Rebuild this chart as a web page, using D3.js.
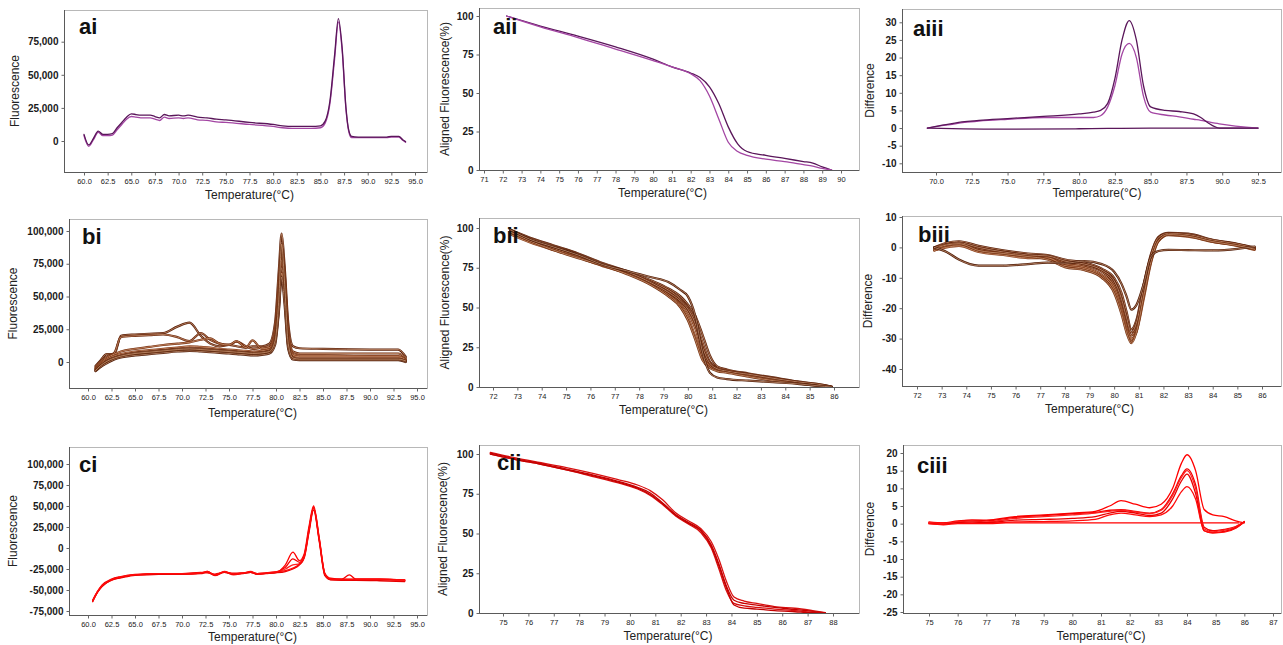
<!DOCTYPE html>
<meta charset="utf-8">
<style>
body { margin: 0; background: #fff; }
svg { font-family: Arial, "Liberation Sans", sans-serif; }
.frame { fill: none; stroke: #b8b8b8; stroke-width: 1; }
.axisline { stroke: #5a5a5a; stroke-width: 1; }
.curve { fill: none; stroke-linejoin: round; stroke-linecap: round; }
.axis-title { font-size: 12px; fill: #222; }
.panel-label { font-size: 22px; font-weight: bold; fill: #111; }
</style>
<body>
<script src="https://d3js.org/d3.v7.min.js"></script>
<script>

// ---- tick values ----
var tempTicksWide = [60, 62.5, 65, 67.5, 70, 72.5, 75, 77.5, 80, 82.5, 85, 87.5, 90, 92.5, 95];
var tempTicksAiii = [70, 72.5, 75, 77.5, 80, 82.5, 85, 87.5, 90, 92.5];
var tempTicksAii  = [71, 72, 73, 74, 75, 76, 77, 78, 79, 80, 81, 82, 83, 84, 85, 86, 87, 88, 89, 90];
var tempTicksB    = [72, 73, 74, 75, 76, 77, 78, 79, 80, 81, 82, 83, 84, 85, 86];
var tempTicksCii  = [75, 76, 77, 78, 79, 80, 81, 82, 83, 84, 85, 86, 87, 88];
var tempTicksCiii = [75, 76, 77, 78, 79, 80, 81, 82, 83, 84, 85, 86, 87];
var fluorTicksA   = [0, 25000, 50000, 75000];
var fluorTicksB   = [0, 25000, 50000, 75000, 100000];
var fluorTicksC   = [-75000, -50000, -25000, 0, 25000, 50000, 75000, 100000];
var alignedTicks  = [0, 25, 50, 75, 100];
var diffTicksA    = [-10, -5, 0, 5, 10, 15, 20, 25, 30];
var diffTicksB    = [-40, -30, -20, -10, 0, 10];
var diffTicksC    = [-25, -20, -15, -10, -5, 0, 5, 10, 15, 20];

// ---- ai : melt curve, raw fluorescence ----
var aiTemp  = [60.0, 60.5, 61.0, 61.5, 62.0, 62.5, 63.0, 63.5, 64.0, 64.5, 65.0, 65.5, 66.0, 67.0, 67.5, 68.0, 68.5, 69.0, 70.0, 70.5, 71.0, 72.0, 73.0, 74.0, 75.0, 77.5, 80.0, 81.0, 82.0, 83.0, 84.0, 85.0, 85.5, 86.0, 86.5, 86.9, 87.3, 87.7, 88.0, 88.3, 89.0, 92.0, 92.5, 93.3, 93.7, 94.0];
var aiFluorA = [5000, -3000, 2000, 7500, 5000, 5000, 5500, 10000, 14000, 18000, 20500, 20000, 19500, 19500, 18500, 17500, 20000, 19000, 19500, 19000, 19500, 18000, 17500, 16500, 16000, 14000, 12500, 11500, 11000, 11000, 11000, 11500, 15000, 30000, 65000, 92500, 70000, 25000, 8000, 3500, 3000, 3000, 3500, 3500, 1000, -500];
var aiFluorB = [4000, -4000, 1000, 6500, 4000, 4000, 4500, 8500, 12500, 16500, 18500, 18000, 17500, 17500, 16500, 15500, 18000, 17000, 17500, 17000, 17500, 16000, 15500, 14500, 14000, 12500, 11000, 10000, 9500, 9500, 9500, 10000, 13500, 28000, 62000, 90000, 68000, 24000, 7000, 2500, 2500, 2500, 3000, 3000, 500, -1000];

// ---- aii : aligned fluorescence ----
var aiiTemp     = [72.2, 74, 76, 78, 80, 81, 82, 82.5, 83, 83.5, 84, 84.5, 85, 86, 87, 88, 88.5, 89, 89.5];
var aiiAlignedA = [100, 93.5, 87, 80, 72, 67, 63, 60, 54, 43, 28, 17, 12, 9.5, 7.5, 5.5, 4.5, 2, 0];
var aiiAlignedB = [100, 93, 86, 78.5, 71, 67, 62.5, 58, 48, 33, 18, 12, 9.5, 7, 5.5, 3.5, 2.5, 1, 0];

// ---- aiii : difference plot ----
var aiiiTemp  = [69.4, 70, 71, 72, 73, 75, 77.5, 80, 81, 81.5, 82, 82.5, 83, 83.5, 84, 84.5, 85, 86, 87, 88, 88.5, 89, 89.8, 92.5];
var aiiiDiffA = [0, 0.5, 1.2, 1.8, 2.2, 2.7, 3.3, 4, 4.5, 5, 7, 14, 25, 30.5, 25, 12, 6, 5, 4.7, 4, 3, 1.5, 0, 0];
var aiiiDiffB = [0, 0.4, 1, 1.6, 2, 2.5, 3, 3, 3, 3.5, 6, 12, 21, 24, 20, 9, 4.5, 3.7, 3.2, 2.5, 2.2, 1.8, 1.2, 0];
var aiiiBaseTemp = [69.4, 75, 80, 85, 92.5];
var aiiiBaseDiff = [0, -0.3, -0.2, 0, 0];

// ---- bi ----
var biTemp = [60.8, 61.3, 62.0, 62.8, 63.5, 65.0, 66.5, 68.0, 69.5, 70.8, 72.0, 73.0, 74.0, 75.0, 75.8, 76.8, 77.5, 78.5, 79.3, 79.9, 80.3, 80.6, 80.9, 81.3, 81.8, 82.5, 85.0, 90.0, 93.0, 93.8];
var biFluor = [
  [-3000, 1000, 6000, 6000, 20000, 21000, 21500, 22000, 27000, 30000, 20000, 14000, 12000, 13000, 12000, 11000, 12000, 12000, 14000, 30000, 70000, 98000, 75000, 30000, 12000, 10500, 10000, 9500, 9500, 4000],
  [-4000, 0, 4000, 7000, 19000, 20000, 20500, 21000, 19000, 16000, 22000, 17000, 14000, 13000, 15500, 12000, 10000, 11000, 12000, 25000, 60000, 88000, 70000, 25000, 8000, 6500, 6500, 6500, 6500, 3000],
  [-5000, -1000, 3000, 6000, 8000, 10000, 11500, 13000, 14000, 15000, 17000, 18000, 14000, 13000, 16000, 11000, 16500, 10000, 11000, 22000, 55000, 82000, 65000, 22000, 6000, 5000, 5000, 4500, 4500, 2000],
  [-5000, -2000, 2000, 4500, 6000, 8000, 9000, 10000, 11000, 12000, 11500, 11000, 10000, 9500, 9000, 8500, 8000, 8500, 9500, 20000, 50000, 78000, 60000, 18000, 5000, 4000, 4000, 4000, 4000, 1500],
  [-6000, -3000, 1000, 3500, 5000, 7000, 8000, 9000, 10000, 10500, 10000, 9500, 9000, 8500, 8000, 7500, 7000, 7500, 8500, 18000, 45000, 72000, 55000, 15000, 3500, 2500, 2500, 2500, 2500, 1000],
  [-6000, -3500, 0, 2500, 4000, 6000, 7000, 8000, 9000, 9500, 9000, 8500, 8000, 7500, 7000, 6500, 6000, 6500, 7500, 15000, 40000, 68000, 50000, 12000, 2500, 2000, 2000, 2000, 2000, 500],
  [-7000, -4000, -1000, 2000, 3500, 5000, 6000, 7000, 8000, 8500, 8000, 7500, 7000, 6500, 6000, 5500, 5000, 5500, 6500, 13000, 38000, 65000, 45000, 10000, 2000, 1500, 1500, 1500, 1500, 0],
  [-6500, -3000, 500, 3000, 4500, 6500, 7500, 8500, 9500, 10000, 9500, 9000, 8500, 8000, 7500, 7000, 6500, 7000, 8000, 16000, 48000, 90000, 62000, 14000, 3000, 2200, 2200, 2200, 2200, 800]
];

// ---- bii ----
var biiTemp = [72.7, 73.5, 74.5, 75.5, 76.5, 77.5, 78.5, 79.2, 79.7, 80.0, 80.3, 80.6, 80.9, 81.2, 81.6, 82.5, 83.5, 84.5, 85.3, 85.9];
var biiAligned = [
  [99, 94, 89, 84, 78, 73, 67, 62, 57, 52, 45, 33, 20, 13, 11, 8.5, 6, 3.5, 2, 0.3],
  [98, 93, 88, 83, 77, 72.5, 66, 61, 55, 50, 42, 28, 16, 12, 10.5, 8, 5.5, 3, 1.5, 0],
  [97, 92, 87, 82, 77, 72, 65, 59, 53, 47, 37, 22, 14, 11, 10, 7.5, 5, 3, 1.2, 0],
  [96, 91, 86, 81.5, 76, 71.5, 64.5, 58, 51, 44, 32, 19, 13, 10.5, 9.5, 7, 4.5, 2.5, 1, 0],
  [98, 93.5, 88.5, 83.5, 77.5, 72.5, 65.5, 59.5, 54, 49, 40, 25, 15, 11.5, 10, 8, 5.5, 3.2, 1.8, 0.2],
  [97.5, 92, 86, 81, 76.5, 71, 64, 57, 50, 42, 30, 17, 12, 10, 9, 6.5, 4, 2.2, 0.8, 0],
  [99, 93, 88, 83, 77, 73, 69, 66, 61, 57, 45, 22, 9, 6, 5, 4, 3, 2, 0.8, 0]
];

// ---- biii ----
var biiiTemp = [72.7, 73.2, 73.7, 74.5, 75.5, 76.5, 77.3, 78, 78.8, 79.5, 80, 80.3, 80.5, 80.7, 80.9, 81.2, 81.5, 81.8, 82.2, 83, 84, 85, 85.7];
var biiiDiff = [
  [0, 1.5, 2, 0.5, -1, -2, -2.5, -4, -5, -7, -10, -15, -21, -27, -24, -12, -2, 3.5, 4.8, 4.5, 2.5, 1.2, 0],
  [-0.5, 1, 1.5, -0.5, -1.5, -2.5, -3, -5, -6, -8, -12, -18, -24, -29, -26, -14, -3, 3, 4.5, 4, 2.2, 1, -0.3],
  [-1, 0.5, 1, -1, -2, -3, -3.5, -5.5, -6.5, -9, -13, -20, -26, -31, -27, -15, -4, 2.5, 4.2, 3.8, 2, 0.8, -0.5],
  [-1, 0, 0.5, -1.5, -2.5, -3.5, -3.5, -6, -7, -9.5, -14, -21, -27, -30, -28, -17, -5, 2, 4, 3.5, 1.8, 0.5, -0.8],
  [0, 1, 1.5, 0, -1.5, -2.5, -2.8, -4.5, -5.5, -7.5, -11, -17, -23, -28, -25, -13, -2.5, 3.2, 4.6, 4.2, 2.4, 1.1, -0.2],
  [-0.5, 0.8, 1.2, -1, -2, -3, -4, -6.5, -7.5, -10, -15, -22, -28, -31.5, -28, -16, -4.5, 2.2, 4.2, 3.7, 1.9, 0.6, -0.6],
  [0, -1.5, -4, -6, -6, -5.5, -5, -5.2, -4.5, -5.5, -8, -12, -16, -20.5, -19, -12, -3, -1.2, -0.8, -0.9, -1, -0.5, 0.3]
];

// ---- ci ----
var ciTemp = [60.5, 61.0, 61.5, 62.5, 63.5, 65, 67.5, 70, 72, 72.7, 73.5, 74.5, 75.5, 76.5, 77.3, 78, 79, 80, 81, 81.8, 82.5, 83, 83.5, 84.0, 84.6, 85.2, 85.8, 87, 87.8, 88.5, 91, 93.7];
var ciFluor = [
  [-63000, -53000, -45000, -38000, -35000, -32000, -31000, -31000, -30000, -28000, -32000, -28000, -31000, -30000, -28500, -31000, -30000, -29000, -20000, -5000, -15000, -7000, 25000, 50000, 12000, -30000, -36000, -37000, -37000, -37000, -37000, -38000],
  [-62000, -52000, -44000, -37000, -34000, -31500, -30500, -30500, -29000, -29500, -31000, -29000, -30000, -29500, -29000, -30500, -29500, -28500, -23000, -13000, -17000, -9000, 22000, 48000, 10000, -31000, -37000, -37000, -32000, -37000, -37000, -38500],
  [-63000, -52000, -45000, -38500, -35000, -32000, -31000, -31500, -30000, -29000, -33000, -28500, -32000, -30000, -29000, -31500, -30500, -29000, -25000, -20000, -19000, -10000, 20000, 47000, 9000, -32000, -37500, -38000, -38000, -38000, -38000, -39000],
  [-64000, -53000, -46000, -38000, -35500, -32500, -31500, -31000, -30500, -28500, -32500, -29000, -31500, -30500, -29000, -31000, -30000, -29500, -28000, -25000, -20000, -12000, 18000, 45000, 8000, -33000, -38000, -38500, -38500, -38500, -39000, -40000],
  [-63000, -52500, -45000, -37500, -34500, -32000, -30500, -30500, -29500, -28000, -32000, -28500, -31000, -30000, -28000, -30500, -29500, -28500, -27000, -24000, -19000, -11000, 20000, 48000, 11000, -31000, -37000, -37500, -37500, -37000, -37000, -38000]
];

// ---- cii ----
var ciiTemp = [74.5, 75.5, 76.5, 77.5, 78.5, 79.5, 80.3, 80.8, 81.3, 81.8, 82.3, 82.8, 83.2, 83.5, 83.8, 84.1, 84.5, 85, 85.7, 86.5, 87.2, 87.7];
var ciiAligned = [
  [101, 97.5, 94.5, 91.5, 88, 84, 80.5, 77, 71, 63, 58, 53, 45, 34, 20, 10, 7.5, 6, 4, 3, 1.5, 0.3],
  [100.5, 97, 94, 90.5, 87, 83, 79, 75.5, 69, 62, 57, 52, 43, 31, 17, 8, 6, 5, 3.5, 2.2, 1, 0],
  [100, 96.5, 93.5, 90, 86, 82, 78, 74, 68, 61, 56, 50.5, 41, 28, 14, 6, 4.5, 3.5, 2.5, 1.5, 0.5, 0],
  [100, 96.5, 93.5, 90, 86.5, 82.5, 78.5, 74.5, 68.5, 61.5, 56.5, 51.5, 42, 30, 16, 5, 3, 2.5, 1.5, 0.8, 0.2, 0]
];

// ---- ciii ----
var ciiiTemp = [75, 75.5, 76, 76.5, 77, 78, 79, 80, 80.8, 81.3, 81.7, 82.2, 82.7, 83.1, 83.5, 83.8, 84.0, 84.3, 84.6, 84.9, 85.3, 85.7, 86];
var ciiiDiff = [
  [0.5, 0.2, 0.8, 1.0, 1.0, 2, 2.5, 3, 3.5, 5, 6.5, 5.5, 4.5, 5.5, 10, 17, 19.5, 15, 4, 2.5, 2, 0.8, 0.2],
  [0.3, 0, 0.6, 1, 0.8, 1.8, 2.3, 2.8, 3.2, 3.8, 4, 3.5, 3, 4, 8.5, 13.5, 15.5, 11, -1, -2, -1.6, -0.8, 0.5],
  [0.3, 0, 0.5, 0.8, 0.5, 1.5, 2, 2.5, 3, 3.5, 3.8, 3.3, 2.8, 3.8, 8, 13, 15, 10, -1.5, -2.3, -1.8, -1, 0.5],
  [0, -0.2, 0.3, 0.5, 0.3, 1, 1.2, 1.5, 2, 3, 3.5, 3, 2.3, 3, 7, 12, 14, 8.5, -2, -2.6, -2.2, -1.2, 0.5],
  [0, -0.3, 0, 0, 0, 0.5, 0.6, 0.8, 1.2, 2.5, 3, 2.5, 2, 2.5, 5, 9, 10.5, 7, -2, -2.6, -2.4, -1.3, 0.6]
];
var ciiiBaseTemp = [75, 80, 85.8];
var ciiiBaseDiff = [0.2, 0.2, 0.2];

// ---- layout (pixel geometry of each panel) ----
var W = 1283, H = 645;
var svg = d3.select("body").append("svg").attr("width", W).attr("height", H);

var fmtComma = function(d) { return d3.format(",")(d).replace("\u2212", "-"); };
var fmtInt = function(d) { return d3.format("d")(d).replace("\u2212", "-"); };
var fmtOne = d3.format(".1f");

var purple = ["#5a165a", "#a345a3"];
var browns = ["#5a1e06", "#6b280b", "#7a3210", "#873c18", "#61230a", "#74300f", "#4e1a05", "#693012"];
var reds = ["#ff0000", "#f20000", "#ff1f1f", "#e80000", "#ff0a0a"];

var panels = [
  { label: "ai", lx: 79, ly: 34, box: [64, 10, 427, 172],
    xd: [60, 95], xr: [84, 415], yd: [0, 75000], yr: [141, 41.7],
    xt: tempTicksWide, xf: fmtOne, yt: fluorTicksA, yf: fmtComma,
    ytitle: "Fluorescence", ytx: 15, xty: 199,
    series: [{ t: aiTemp, v: aiFluorB, c: purple[1] }, { t: aiTemp, v: aiFluorA, c: purple[0] }] },
  { label: "aii", lx: 493, ly: 34, box: [479, 8, 859, 170],
    xd: [71, 90], xr: [484, 841], yd: [0, 100], yr: [170, 16],
    xt: tempTicksAii, xf: fmtInt, yt: alignedTicks, yf: fmtInt,
    ytitle: "Aligned Fluorescence(%)", ytx: 445, xty: 197,
    series: [{ t: aiiTemp, v: aiiAlignedA, c: purple[0] }, { t: aiiTemp, v: aiiAlignedB, c: purple[1] }] },
  { label: "aiii", lx: 913, ly: 36, box: [902, 9, 1281, 172],
    xd: [70, 92.5], xr: [936, 1258], yd: [-10, 30], yr: [163.3, 22.3],
    xt: tempTicksAiii, xf: fmtOne, yt: diffTicksA, yf: fmtInt,
    ytitle: "Difference", ytx: 870, xty: 197,
    series: [{ t: aiiiBaseTemp, v: aiiiBaseDiff, c: purple[0] },
             { t: aiiiTemp, v: aiiiDiffB, c: purple[1] }, { t: aiiiTemp, v: aiiiDiffA, c: purple[0] }] },
  { label: "bi", lx: 82, ly: 244, box: [69, 219, 427, 388],
    xd: [60, 95], xr: [88, 417], yd: [0, 100000], yr: [362, 231],
    xt: tempTicksWide, xf: fmtOne, yt: fluorTicksB, yf: fmtComma,
    ytitle: "Fluorescence", ytx: 13, xty: 417, dbl: true,
    series: biFluor.map(function(v, i) { return { t: biTemp, v: v, c: browns[i % browns.length] }; }) },
  { label: "bii", lx: 493, ly: 243, box: [479, 218, 859, 387],
    xd: [72, 86], xr: [493, 834], yd: [0, 100], yr: [387, 228],
    xt: tempTicksB, xf: fmtInt, yt: alignedTicks, yf: fmtInt,
    ytitle: "Aligned Fluorescence(%)", ytx: 445, xty: 414, dbl: true,
    series: biiAligned.map(function(v, i) { return { t: biiTemp, v: v, c: browns[i % browns.length] }; }) },
  { label: "biii", lx: 918, ly: 242, box: [902, 216, 1281, 386],
    xd: [72, 86], xr: [917, 1262], yd: [-40, 10], yr: [369, 217],
    xt: tempTicksB, xf: fmtInt, yt: diffTicksB, yf: fmtInt,
    ytitle: "Difference", ytx: 868, xty: 413, dbl: true,
    series: biiiDiff.map(function(v, i) { return { t: biiiTemp, v: v, c: browns[i % browns.length] }; }) },
  { label: "ci", lx: 79, ly: 472, box: [69, 447, 427, 615],
    xd: [60, 95], xr: [88, 417], yd: [-75000, 100000], yr: [611, 464],
    xt: tempTicksWide, xf: fmtOne, yt: fluorTicksC, yf: fmtComma,
    ytitle: "Fluorescence", ytx: 13, xty: 641,
    series: ciFluor.map(function(v, i) { return { t: ciTemp, v: v, c: reds[i % reds.length] }; }) },
  { label: "cii", lx: 497, ly: 470, box: [479, 445, 859, 613],
    xd: [75, 88], xr: [503, 833], yd: [0, 100], yr: [613, 454],
    xt: tempTicksCii, xf: fmtInt, yt: alignedTicks, yf: fmtInt,
    ytitle: "Aligned Fluorescence(%)", ytx: 443, xty: 640,
    series: ciiAligned.map(function(v, i) { return { t: ciiTemp, v: v, c: i % 2 ? "#c40000" : "#d81010" }; }) },
  { label: "ciii", lx: 917, ly: 473, box: [903, 445, 1281, 613],
    xd: [75, 87], xr: [929, 1273], yd: [-25, 20], yr: [612, 453],
    xt: tempTicksCiii, xf: fmtInt, yt: diffTicksC, yf: fmtInt,
    ytitle: "Difference", ytx: 870, xty: 640,
    series: [{ t: ciiiBaseTemp, v: ciiiBaseDiff, c: reds[0] }].concat(
      ciiiDiff.map(function(v, i) { return { t: ciiiTemp, v: v, c: reds[i % reds.length] }; })) }
];

function drawPanel(p) {
  var g = svg.append("g").attr("class", "panel");
  var x = d3.scaleLinear().domain(p.xd).range(p.xr);
  var y = d3.scaleLinear().domain(p.yd).range(p.yr);
  var l = p.box[0], t = p.box[1], r = p.box[2], b = p.box[3];

  g.append("rect").attr("class", "frame")
    .attr("x", l + 0.5).attr("y", t + 0.5)
    .attr("width", r - l).attr("height", b - t);
  g.append("line").attr("class", "axisline")
    .attr("x1", l + 0.5).attr("x2", l + 0.5).attr("y1", t).attr("y2", b + 0.5);
  g.append("line").attr("class", "axisline")
    .attr("x1", l).attr("x2", r).attr("y1", b + 0.5).attr("y2", b + 0.5);

  var xAxis = d3.axisBottom(x).tickValues(p.xt).tickFormat(p.xf)
    .tickSize(3).tickSizeOuter(0).tickPadding(3);
  var gx = g.append("g").attr("transform", "translate(0," + (b + 0.5) + ")").call(xAxis);
  gx.select(".domain").remove();
  gx.attr("font-size", null).attr("font-family", null);
  gx.selectAll(".tick line").attr("stroke", "#666");
  gx.selectAll(".tick text").attr("font-size", "7.5px").attr("fill", "#222");

  var yAxis = d3.axisLeft(y).tickValues(p.yt).tickFormat(p.yf)
    .tickSize(3).tickSizeOuter(0).tickPadding(3);
  var gy = g.append("g").attr("transform", "translate(" + (l + 0.5) + ",0)").call(yAxis);
  gy.select(".domain").remove();
  gy.attr("font-size", null).attr("font-family", null);
  gy.selectAll(".tick line").attr("stroke", "#666");
  gy.selectAll(".tick text").attr("font-size", "10px").attr("font-weight", "bold").attr("fill", "#1a1a1a");

  // axis titles
  g.append("text").attr("class", "axis-title")
    .attr("text-anchor", "middle")
    .attr("transform", "translate(" + p.ytx + "," + ((t + b) / 2) + ") rotate(-90)")
    .attr("dy", "0.35em")
    .text(p.ytitle);
  g.append("text").attr("class", "axis-title")
    .attr("text-anchor", "middle")
    .attr("x", (p.xr[0] + p.xr[1]) / 2).attr("y", p.xty)
    .text("Temperature(\u00B0C)");

  // curves
  var clipId = "clip-" + p.label;
  svg.append("clipPath").attr("id", clipId).append("rect")
    .attr("x", l + 1).attr("y", t + 1).attr("width", r - l - 1).attr("height", b - t - 1);
  var cg = g.append("g").attr("clip-path", "url(#" + clipId + ")");

  p.series.forEach(function(s) {
    var line = d3.line()
      .x(function(d, i) { return x(s.t[i]); })
      .y(function(d) { return y(d); })
      .curve(d3.curveMonotoneX);
    if (p.dbl) {
      cg.append("path").attr("class", "curve").attr("d", line(s.v))
        .attr("stroke", s.c).attr("stroke-width", 2.2);
      cg.append("path").attr("class", "curve").attr("d", line(s.v))
        .attr("stroke", "#e0b08e").attr("stroke-width", 0.7).attr("opacity", 0.9);
    } else {
      cg.append("path").attr("class", "curve").attr("d", line(s.v))
        .attr("stroke", s.c).attr("stroke-width", 1.3);
    }
  });

  g.append("text").attr("class", "panel-label")
    .attr("x", p.lx).attr("y", p.ly).text(p.label);
}

panels.forEach(drawPanel);

</script>
</body>
